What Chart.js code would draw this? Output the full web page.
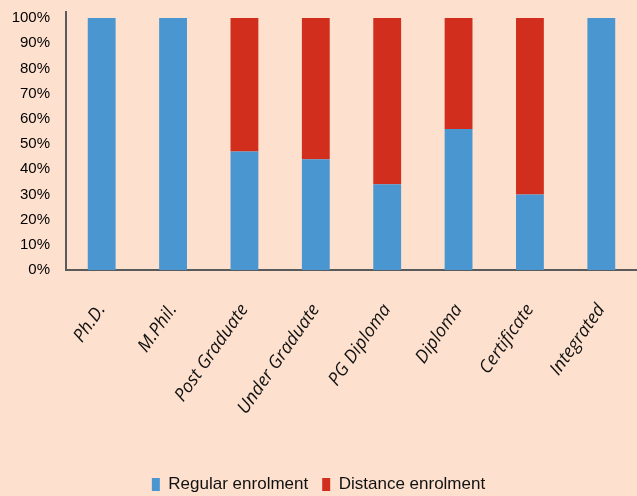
<!DOCTYPE html>
<html>
<head>
<meta charset="utf-8">
<script src="https://cdn.jsdelivr.net/npm/chart.js@4.4.0/dist/chart.umd.min.js"></script>
<style>
  html, body { margin: 0; padding: 0; background: #FDE1CE; }
  #wrap { width: 637px; height: 496px; overflow: hidden; }
</style>
</head>
<body>
<div id="wrap"><canvas id="enrolChart" width="637" height="496"></canvas></div>
<script>
// === Chart data ===
const categories = ["Ph.D.", "M.Phil.", "Post Graduate", "Under Graduate", "PG Diploma", "Diploma", "Certificate", "Integrated"];
const regularShare = [100, 100, 47, 44, 34, 56, 30, 100];    // % regular enrolment
const distanceShare = [0, 0, 53, 56, 66, 44, 70, 0];         // % distance enrolment
const yTicks = [0, 10, 20, 30, 40, 50, 60, 70, 80, 90, 100];

const ctx = document.getElementById("enrolChart").getContext("2d");

new Chart(ctx, {
  type: "bar",
  data: {
    labels: categories,
    datasets: [
      {
        label: "Regular enrolment",
        data: regularShare,
        backgroundColor: "#4A96D1",
        barPercentage: 0.39,
        categoryPercentage: 1
      },
      {
        label: "Distance enrolment",
        data: distanceShare,
        backgroundColor: "#D22E1E",
        barPercentage: 0.39,
        categoryPercentage: 1
      }
    ]
  },
  options: {
    responsive: false,
    animation: false,
    layout: { padding: { top: 12, right: 0, left: 0, bottom: -7 } },
    plugins: {
      legend: {
        position: "bottom",
        labels: {
          boxWidth: 8,
          boxHeight: 13,
          padding: 14,
          color: "#111",
          font: { family: "Liberation Sans", size: 17 }
        }
      },
      tooltip: { enabled: false }
    },
    scales: {
      x: {
        stacked: true,
        grid: { display: false },
        border: { display: true, color: "#5a5a5a", width: 2 },
        ticks: {
          minRotation: 55,
          maxRotation: 55,
          padding: 22,
          color: "#111",
          font: { family: "Open Sans", size: 18, style: "italic" }
        },
        afterFit: s => { s.height = 192; s.paddingRight = 0; }
      },
      y: {
        stacked: true,
        min: 0,
        max: 102.4,
        grid: { display: false },
        border: { display: true, color: "#5a5a5a", width: 2 },
        afterBuildTicks: s => { s.ticks = yTicks.map(v => ({ value: v })); },
        ticks: {
          autoSkip: false,
          padding: 8,
          color: "#000",
          font: { family: "Liberation Sans", size: 15 },
          callback: v => v + "%"
        },
        afterFit: s => { s.width = 66; s.paddingTop = 0; s.paddingBottom = 0; }
      }
    }
  }
});
</script>
</body>
</html>
